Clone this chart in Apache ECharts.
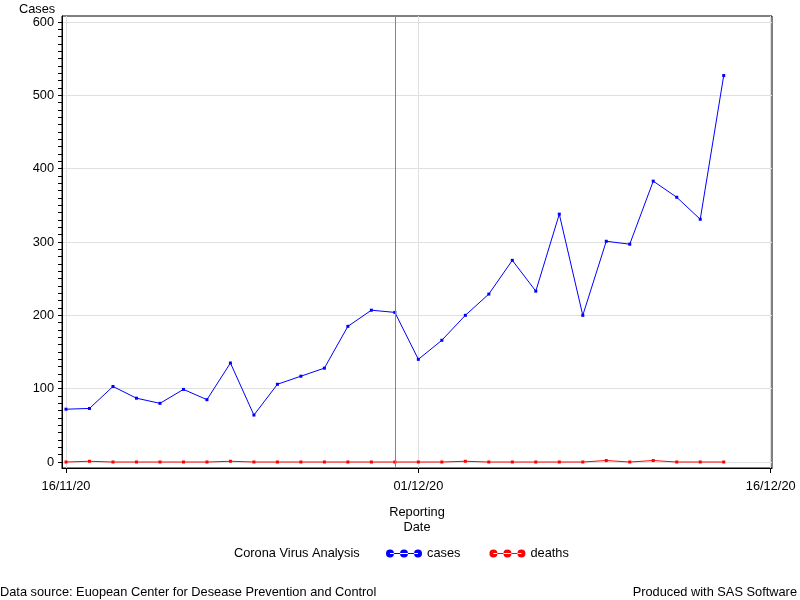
<!DOCTYPE html>
<html><head><meta charset="utf-8">
<script src="https://cdn.jsdelivr.net/npm/echarts@6/dist/echarts.min.js"></script>
<style>html,body{margin:0;padding:0;background:#fff}#c{width:800px;height:600px}</style>
</head><body><div id="c"></div><script>
const dates = ['2020-11-16','2020-11-17','2020-11-18','2020-11-19','2020-11-20','2020-11-21','2020-11-22','2020-11-23','2020-11-24','2020-11-25','2020-11-26','2020-11-27','2020-11-28','2020-11-29','2020-11-30','2020-12-01','2020-12-02','2020-12-03','2020-12-04','2020-12-05','2020-12-06','2020-12-07','2020-12-08','2020-12-09','2020-12-10','2020-12-11','2020-12-12','2020-12-13','2020-12-14'];
const cases = [72,73,103,87,80,99,85,135,64,106,117,128,185,207,204,140,166,200,229,275,233,338,200,301,297,383,361,331,527];
const deaths = [0,1,0,0,0,0,0,1,0,0,0,0,0,0,0,0,0,1,0,0,0,0,0,2,0,2,0,0,0];
const xTickDates = ['2020-11-16','2020-12-01','2020-12-16'];
const yTickValues = [0,100,200,300,400,500,600];
const refDate = '2020-11-30';

const DAY = 864e5;
const ts = d => Date.parse(d + 'T00:00:00Z');
const pad = n => (n < 10 ? '0' : '') + n;
const fmt = v => { const d = new Date(v); return pad(d.getUTCDate()) + '/' + pad(d.getUTCMonth() + 1) + '/' + String(d.getUTCFullYear()).slice(2); };
const minorTicks = [];
for (let v = yTickValues[0]; v <= yTickValues[yTickValues.length - 1]; v += 10) minorTicks.push(v);
const xTicks = xTickDates.map(ts);
const font = "'Liberation Sans', Arial, sans-serif";
const FS = 12.8;
const yMin = -8.18, yMax = 608.18;
const tsStyle = {fontSize: FS, fontWeight: 'normal', color: '#000', fontFamily: font};

const chart = echarts.init(document.getElementById('c'), null, {renderer: 'canvas'});
chart.setOption({
  animation: false,
  backgroundColor: '#fff',
  textStyle: {fontFamily: font, color: '#000'},
  title: [
    {text: 'Cases', left: 19, top: 3, padding: 0, textStyle: tsStyle},
    {text: 'Corona Virus Analysis', left: 234, top: 547, padding: 0, textStyle: tsStyle},
    {text: 'Data source: Euopean Center for Desease Prevention and Control', left: 0, top: 586, padding: 0, textStyle: tsStyle},
    {text: 'Produced with SAS Software', right: 3, top: 586, padding: 0, textStyle: tsStyle}
  ],
  legend: {
    data: ['cases', 'deaths'], left: 386, top: 547, padding: 0, itemWidth: 36, itemHeight: 8, itemGap: 29,
    icon: 'path://M0,4a4,4 0 1,0 8,0a4,4 0 1,0 -8,0M14,4a4,4 0 1,0 8,0a4,4 0 1,0 -8,0M28,4a4,4 0 1,0 8,0a4,4 0 1,0 -8,0M4,3.5L32,3.5L32,4.5L4,4.5Z',
    textStyle: {fontSize: FS, color: '#000', fontFamily: font},
    selectedMode: false
  },
  grid: {left: 62, right: 28, top: 16, bottom: 132, show: true, borderColor: '#000', borderWidth: 1, containLabel: false, outerBoundsMode: 'none'},
  xAxis: [{
    type: 'value', position: 'bottom',
    min: ts(dates[0]) - 0.17 * DAY, max: xTicks[xTicks.length - 1] + 0.055 * DAY,
    name: 'Reporting\nDate', nameLocation: 'middle', nameGap: 37,
    nameTextStyle: {fontSize: FS, color: '#000', fontFamily: font, lineHeight: 15},
    axisLine: {show: true, onZero: false, lineStyle: {color: '#000', width: 1}},
    axisTick: {show: true, length: 5, customValues: xTicks, lineStyle: {color: '#000'}},
    axisLabel: {customValues: xTicks, formatter: fmt, fontSize: FS, color: '#000', margin: 12, fontFamily: font, showMinLabel: true, showMaxLabel: true, hideOverlap: false},
    splitLine: {show: true, lineStyle: {color: '#e0e0e0', width: 1}}
  }],
  yAxis: [{
    type: 'value', position: 'left', min: yMin, max: yMax,
    axisLine: {show: true, onZero: false, lineStyle: {color: '#000', width: 1}},
    axisTick: {show: true, length: 4, customValues: minorTicks, lineStyle: {color: '#000'}},
    axisLabel: {customValues: yTickValues, fontSize: FS, color: '#000', margin: 8, fontFamily: font, showMinLabel: true, showMaxLabel: true},
    splitLine: {show: false}
  }, {
    type: 'value', position: 'right', min: yMin, max: yMax,
    axisLine: {show: false}, axisTick: {show: false, customValues: yTickValues}, axisLabel: {show: false},
    splitLine: {show: true, lineStyle: {color: '#e0e0e0', width: 1}}
  }],
  series: [{
    name: 'cases', type: 'line', xAxisIndex: 0, yAxisIndex: 0,
    data: dates.map((d, i) => [ts(d), cases[i]]),
    color: '#0000ff', symbol: 'rect', symbolSize: 3, showSymbol: true,
    lineStyle: {color: '#0000ff', width: 1}, itemStyle: {color: '#0000ff'},
    emphasis: {disabled: true}, z: 3,
    markLine: {
      silent: true, symbol: ['none', 'none'], label: {show: false},
      lineStyle: {color: '#80868f', width: 1, type: 'solid'},
      data: [{xAxis: ts(refDate)}]
    }
  }, {
    name: 'deaths', type: 'line', xAxisIndex: 0, yAxisIndex: 0,
    data: dates.map((d, i) => [ts(d), deaths[i]]),
    color: '#ff0000', symbol: 'rect', symbolSize: 3, showSymbol: true,
    lineStyle: {color: '#ff0000', width: 1}, itemStyle: {color: '#ff0000'},
    emphasis: {disabled: true}, z: 4
  }]
});
</script></body></html>
